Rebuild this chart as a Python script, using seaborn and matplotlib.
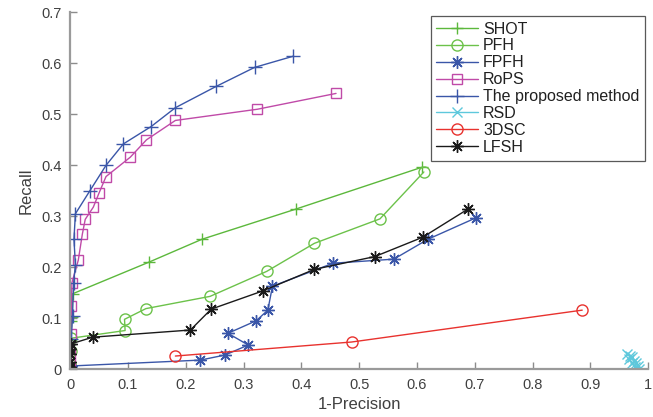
import numpy as np
import pandas as pd
import matplotlib
matplotlib.use("Agg")
import matplotlib.pyplot as plt
import seaborn as sns

# ---- data ----
shot_x = [0.0, 0.0, 0.002, 0.003, 0.004, 0.136, 0.228, 0.390, 0.608]
shot_y = [0.010, 0.057, 0.095, 0.102, 0.148, 0.210, 0.255, 0.314, 0.396]

pfh_x = [0.0, 0.001, 0.002, 0.095, 0.094, 0.131, 0.242, 0.340, 0.4225, 0.536, 0.612]
pfh_y = [0.010, 0.035, 0.061, 0.076, 0.098, 0.119, 0.143, 0.192, 0.247, 0.295, 0.387]

fpfh_x = [0.0, 0.002, 0.225, 0.268, 0.308, 0.273, 0.322, 0.342, 0.350, 0.455, 0.560, 0.619, 0.702]
fpfh_y = [0.002, 0.0065, 0.018, 0.028, 0.0476, 0.0706, 0.0953, 0.116, 0.163, 0.208, 0.216, 0.255, 0.297]

rops_x = [0.0, 0.0, 0.001, 0.002, 0.003, 0.014, 0.021, 0.026, 0.040, 0.050, 0.062, 0.104, 0.132, 0.182, 0.324, 0.460]
rops_y = [0.010, 0.030, 0.070, 0.125, 0.170, 0.214, 0.265, 0.294, 0.318, 0.346, 0.378, 0.416, 0.450, 0.488, 0.510, 0.541]

prop_x = [0.0, 0.002, 0.004, 0.006, 0.009, 0.0065, 0.009, 0.034, 0.062, 0.092, 0.140, 0.182, 0.253, 0.319, 0.386]
prop_y = [0.005, 0.060, 0.105, 0.170, 0.205, 0.255, 0.305, 0.350, 0.400, 0.442, 0.476, 0.513, 0.555, 0.592, 0.614]

rsd_x = [0.964, 0.969, 0.967, 0.972, 0.976, 0.973, 0.979, 0.982, 0.978, 0.985]
rsd_y = [0.030, 0.027, 0.021, 0.024, 0.017, 0.012, 0.013, 0.007, 0.004, 0.001]

dsc_x = [0.182, 0.487, 0.886]
dsc_y = [0.026, 0.0535, 0.116]

lfsh_x = [0.0, 0.0, 0.0, 0.0, 0.002, 0.039, 0.208, 0.244, 0.334, 0.4225, 0.527, 0.610, 0.688]
lfsh_y = [0.005, 0.015, 0.030, 0.040, 0.050, 0.063, 0.077, 0.118, 0.154, 0.196, 0.221, 0.259, 0.314]

names = ["SHOT", "PFH", "FPFH", "RoPS", "The proposed method", "RSD", "3DSC", "LFSH"]
xticks = [0, 0.1, 0.2, 0.3, 0.4, 0.5, 0.6, 0.7, 0.8, 0.9, 1.0]
xticklabels = ["0", "0.1", "0.2", "0.3", "0.4", "0.5", "0.6", "0.7", "0.8", "0.9", "1"]
yticks = [0, 0.1, 0.2, 0.3, 0.4, 0.5, 0.6, 0.7]
yticklabels = ["0", "0.1", "0.2", "0.3", "0.4", "0.5", "0.6", "0.7"]

series = [
    (shot_x, shot_y, "#5cb83c", "+", False, 9),
    (pfh_x, pfh_y, "#6cc24a", "o", True, 8),
    (fpfh_x, fpfh_y, "#3a56a8", (8, 2, 0), False, 9),
    (rops_x, rops_y, "#c04aa8", "s", True, 6.5),
    (prop_x, prop_y, "#3a56a8", "+", False, 10),
    (rsd_x, rsd_y, "#5ec8dc", "x", False, 7),
    (dsc_x, dsc_y, "#e8322e", "o", True, 8),
    (lfsh_x, lfsh_y, "#1a1a1a", (8, 2, 0), False, 9),
]

sns.set_style("ticks")
plt.rcParams["font.family"] = ["Liberation Sans", "DejaVu Sans"]

fig = plt.figure(figsize=(6.53, 4.17), dpi=100)
ax = fig.add_axes([0.1075, 0.1144, 0.885, 0.856])

for (xs, ys, col, mk, hollow, ms), name in zip(series, names):
    df = pd.DataFrame({"x": xs, "y": ys})
    kw = dict(marker=mk, markersize=ms, mec=col, mew=1.0, linewidth=1.0)
    if hollow:
        kw["mfc"] = "none"
    sns.lineplot(data=df, x="x", y="y", ax=ax, color=col, sort=False,
                 estimator=None, label=name, **kw)

ax.set_xlim(0, 1)
ax.set_ylim(0, 0.7)
ax.set_xticks(xticks)
ax.set_xticklabels(xticklabels)
ax.set_yticks(yticks)
ax.set_yticklabels(yticklabels)
ax.tick_params(direction="in", length=5, width=1, color="#8c8c8c",
               labelcolor="#404040", labelsize=10.5, pad=6)
for s in ["top", "right"]:
    ax.spines[s].set_visible(False)
for s in ["left", "bottom"]:
    ax.spines[s].set_color("#9a9a9a")
    ax.spines[s].set_linewidth(1.6)
ax.set_xlabel("1-Precision", fontsize=12, color="#404040", labelpad=4)
ax.set_ylabel("Recall", fontsize=12, color="#404040", labelpad=6)

leg = ax.legend(loc="upper right", bbox_to_anchor=(0.995, 0.99), fontsize=11.5,
                frameon=True, fancybox=False, handlelength=2.6, borderpad=0.35,
                labelspacing=0.12, handletextpad=0.35, borderaxespad=0)
leg.get_frame().set_edgecolor("#303030")
leg.get_frame().set_linewidth(0.9)
for t in leg.get_texts():
    t.set_color("#202020")

fig.savefig("out.png", dpi=100)
